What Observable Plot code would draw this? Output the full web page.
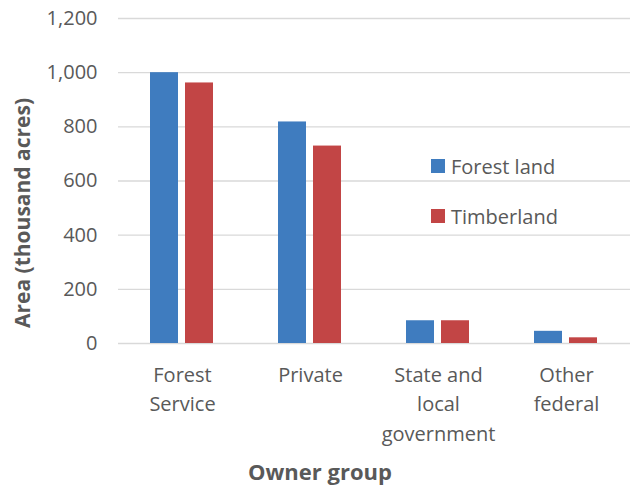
<!DOCTYPE html>
<html><head><meta charset="utf-8">
<script src="https://cdn.jsdelivr.net/npm/d3@7"></script>
<script src="https://cdn.jsdelivr.net/npm/@observablehq/plot@0.6"></script>
<style>
body{margin:0;background:#fff;}
#chart{position:relative;width:630px;height:485px;font-family:"Open Sans",sans-serif;color:#595959;}
#chart svg{display:block;}
.ytitle{position:absolute;left:22px;top:213px;transform:translate(-50%,-50%) rotate(-90deg);font-weight:bold;font-size:21px;white-space:nowrap;}
.xtitle{position:absolute;left:320px;top:471px;transform:translate(-50%,-50%);font-weight:bold;font-size:22px;white-space:nowrap;}
.legend{position:absolute;left:431px;top:156px;font-size:20px;}
.legend .item{display:flex;align-items:center;height:20px;margin-bottom:30px;white-space:nowrap;}
.legend .sw{width:14px;height:14px;margin-right:6px;}
</style></head><body><div id="chart"></div>
<script>
const owners = ["Forest Service", "Private", "State and local government", "Other federal"];
const ownerLabels = ["Forest\nService", "Private", "State and\nlocal\ngovernment", "Other\nfederal"];
const series = ["Forest land", "Timberland"];
const forestLand = [1000, 818, 84, 45];
const timberland = [962, 729, 84, 21];
const yTicks = [0, 200, 400, 600, 800, 1000, 1200];
const colors = ["#3f7cbf", "#c24545"];
const yTitle = "Area (thousand acres)";
const xTitle = "Owner group";

const data = owners.flatMap((o, i) => [
  {owner: o, series: series[0], value: forestLand[i]},
  {owner: o, series: series[1], value: timberland[i]}
]);

const plot = Plot.plot({
  width: 630, height: 485,
  marginLeft: 118, marginRight: 0, marginTop: 18, marginBottom: 142,
  style: {fontFamily: "'Open Sans', sans-serif", fontSize: "20px", color: "#595959", background: "#fff"},
  fx: {domain: owners, padding: 0, label: null, axis: null},
  x: {domain: series, paddingInner: 0.194, paddingOuter: 0.875, axis: null},
  y: {domain: [0, 1200], label: null, axis: null},
  color: {domain: series, range: colors},
  marks: [
    Plot.gridY(yTicks, {stroke: "#d9d9d9", strokeOpacity: 1, strokeWidth: 1.4}),
    Plot.barY(data, {fx: "owner", x: "series", y: "value", fill: "series"}),
    Plot.axisY(yTicks, {tickSize: 0, tickPadding: 21, tickFormat: d3.format(","), label: null, fontSize: 20, fill: "#595959"}),
    Plot.axisFx({anchor: "bottom", tickSize: 0, tickPadding: 18, label: null, lineHeight: 1.46, fontSize: 20, fill: "#595959",
      tickFormat: d => ownerLabels[owners.indexOf(d)]})
  ]
});

const chart = document.getElementById("chart");
chart.appendChild(plot);

const yt = document.createElement("div");
yt.className = "ytitle"; yt.textContent = yTitle; chart.appendChild(yt);
const xt = document.createElement("div");
xt.className = "xtitle"; xt.textContent = xTitle; chart.appendChild(xt);

const leg = document.createElement("div");
leg.className = "legend";
series.forEach((s, i) => {
  const it = document.createElement("div");
  it.className = "item";
  const sw = document.createElement("div");
  sw.className = "sw"; sw.style.background = colors[i];
  const tx = document.createElement("span");
  tx.textContent = s;
  it.appendChild(sw); it.appendChild(tx);
  leg.appendChild(it);
});
chart.appendChild(leg);
</script></body></html>
